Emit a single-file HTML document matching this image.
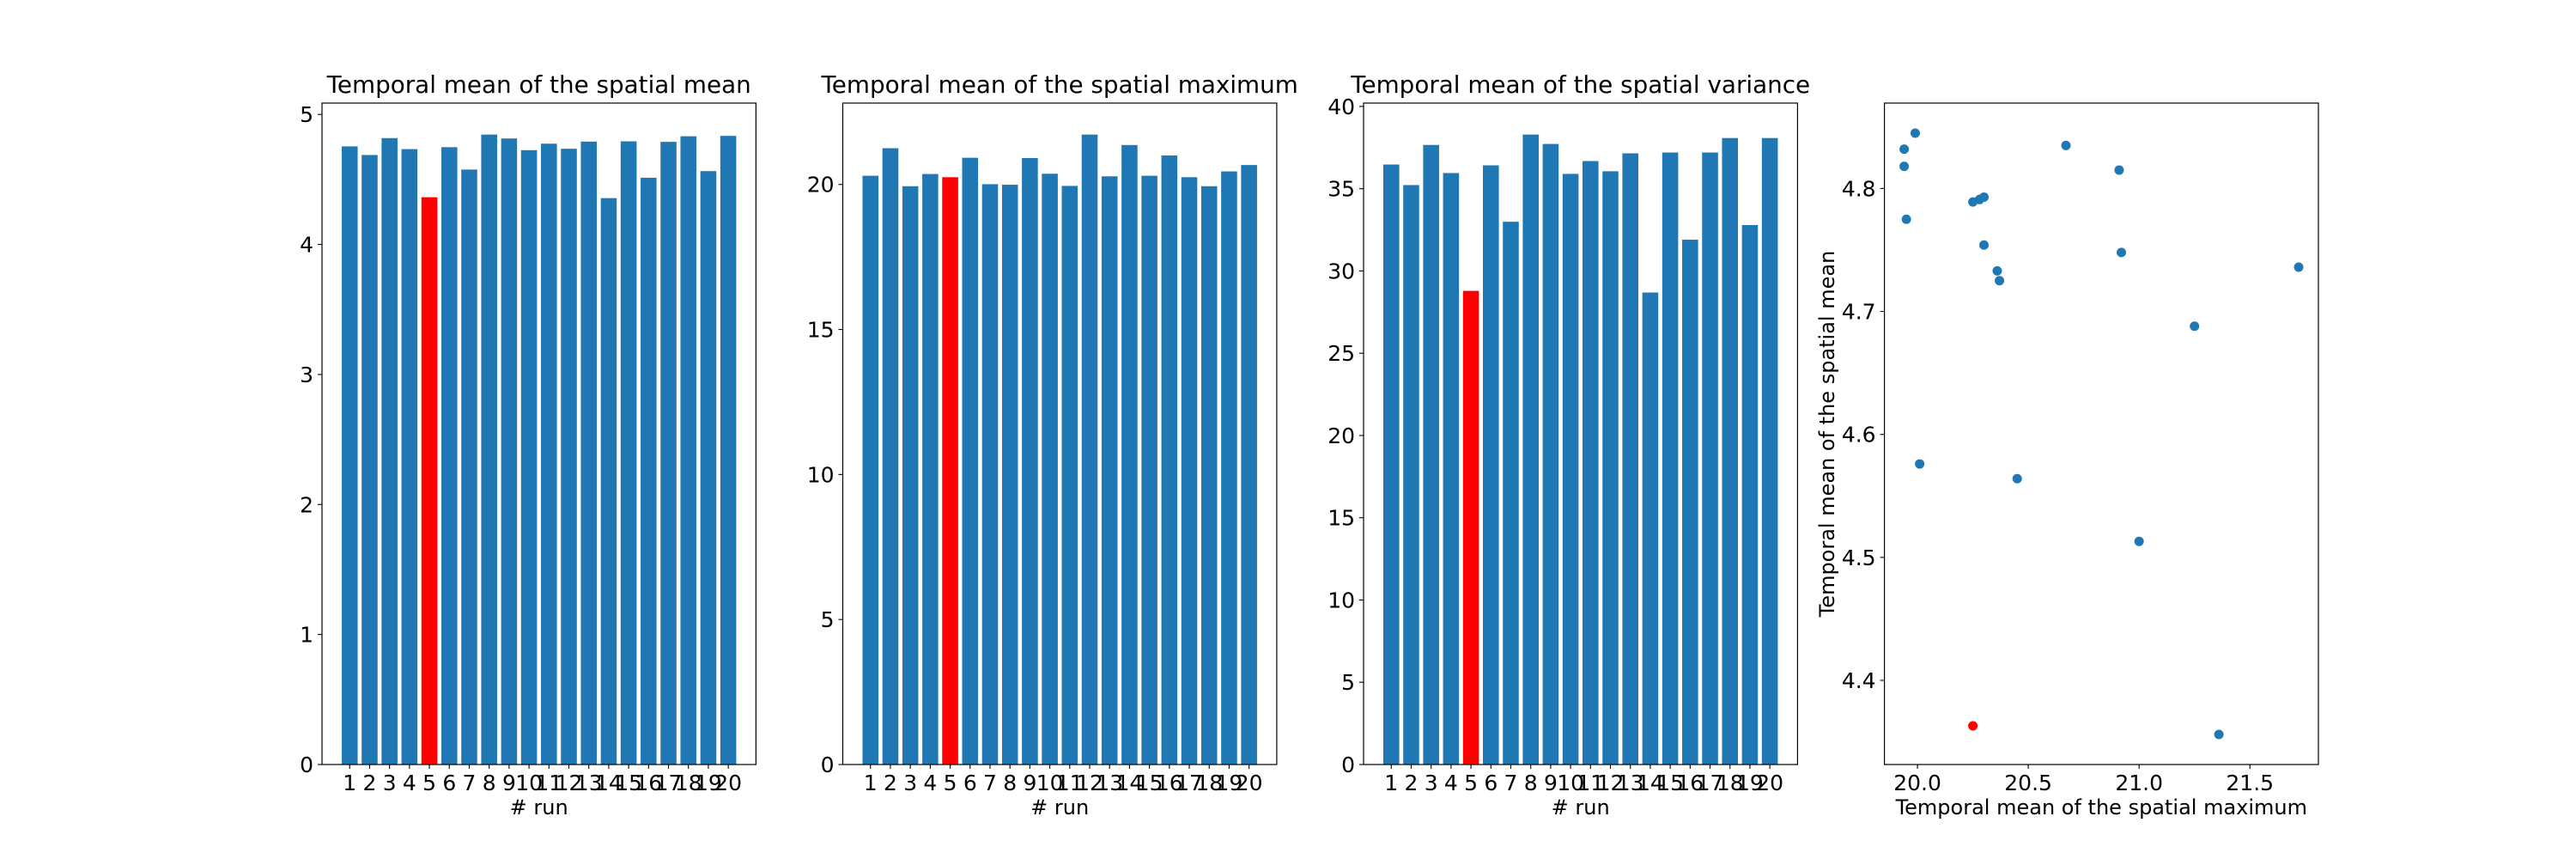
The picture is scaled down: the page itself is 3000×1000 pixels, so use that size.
<!DOCTYPE html>
<html><head><meta charset="utf-8"><style>
html,body{margin:0;padding:0;background:#fff;}
svg{display:block;font-family:"DejaVu Sans","Liberation Sans",sans-serif;}
</style></head><body>
<svg id="fig" xmlns="http://www.w3.org/2000/svg" width="3000" height="1000" viewBox="0 0 3000 1000"></svg>
<script>
const runs = [1,2,3,4,5,6,7,8,9,10,11,12,13,14,15,16,17,18,19,20];
const meanVals = [4.754,4.688,4.818,4.733,4.363,4.748,4.576,4.845,4.815,4.725,4.775,4.736,4.791,4.356,4.793,4.513,4.789,4.832,4.564,4.835];
const maxVals = [20.30,21.25,19.94,20.36,20.25,20.92,20.01,19.99,20.91,20.37,19.95,21.72,20.28,21.36,20.30,21.00,20.25,19.94,20.45,20.67];
const varVals = [36.47,35.22,37.66,35.95,28.79,36.42,32.99,38.29,37.72,35.90,36.68,36.06,37.15,28.69,37.20,31.90,37.20,38.08,32.79,38.08];
const highlightRun = 5;
const meanTicks = [0,1,2,3,4,5];
const maxTicks = [0,5,10,15,20];
const varTicks = [0,5,10,15,20,25,30,35,40];
const scatXTicks = [20.0,20.5,21.0,21.5];
const scatYTicks = [4.4,4.5,4.6,4.7,4.8];

const NS = "http://www.w3.org/2000/svg";
const svg = document.getElementById('fig');
const BLUE = "#1f77b4", RED = "#ff0000";
const TOP = 120, BOT = 890;
function el(tag, attrs, parent){
  const e = document.createElementNS(NS, tag);
  for (const k in attrs) e.setAttribute(k, attrs[k]);
  (parent||svg).appendChild(e);
  return e;
}
function txt(s, attrs, parent){ const t = el('text', attrs, parent); t.textContent = s; return t; }

function barChart(name, L, R, vals, ticks, title){
  const g = el('g', {});
  
  
  const vmax = Math.max(...vals) * 1.05;
  const x = v => L + (v - (-0.39)) / (21.39 - (-0.39)) * (R - L);
  const y = v => BOT - v / vmax * (BOT - TOP);
  vals.forEach((v, i) => {
    const r = runs[i];
    const b = el('rect', {x: x(r - 0.4), y: y(v), width: x(r + 0.4) - x(r - 0.4), height: BOT - y(v), fill: r === highlightRun ? RED : BLUE}, g);
    
    
  });
  el('rect', {x: L, y: TOP, width: R - L, height: BOT - TOP, fill: 'none', stroke: '#000', 'stroke-width': 1.2}, g);
  ticks.forEach(t => {
    el('line', {x1: L - 5, x2: L, y1: y(t), y2: y(t), stroke: '#000', 'stroke-width': 1.1}, g);
    const tl = txt(String(t), {x: L - 10, y: y(t) + 9, 'text-anchor': 'end', 'font-size': 25}, g);
    
    
  });
  runs.forEach(r => {
    el('line', {x1: x(r), x2: x(r), y1: BOT, y2: BOT + 5, stroke: '#000', 'stroke-width': 1.1}, g);
    const tl = txt(String(r), {x: x(r), y: BOT + 30, 'text-anchor': 'middle', 'font-size': 25}, g);
    
    
  });
  const xl = txt('# run', {x: (L + R) / 2, y: BOT + 58, 'text-anchor': 'middle', 'font-size': 24}, g);
  
  
  const tt = txt(title, {x: (L + R) / 2, y: TOP - 12, 'text-anchor': 'middle', 'font-size': 27.8}, g);
  
  
}

barChart('mean-bar-chart', 375, 880.4, meanVals, meanTicks, 'Temporal mean of the spatial mean');
barChart('max-bar-chart', 981.5, 1486.9, maxVals, maxTicks, 'Temporal mean of the spatial maximum');
barChart('variance-bar-chart', 1588, 2093.4, varVals, varTicks, 'Temporal mean of the spatial variance');

(function(){
  const L = 2194.6, R = 2700;
  const g = el('g', {});
  
  
  const xmn = Math.min(...maxVals), xmx = Math.max(...maxVals);
  const ymn = Math.min(...meanVals), ymx = Math.max(...meanVals);
  const x0 = xmn - 0.05*(xmx-xmn), x1 = xmx + 0.05*(xmx-xmn);
  const y0 = ymn - 0.05*(ymx-ymn), y1 = ymx + 0.05*(ymx-ymn);
  const x = v => L + (v - x0) / (x1 - x0) * (R - L);
  const y = v => BOT - (v - y0) / (y1 - y0) * (BOT - TOP);
  maxVals.forEach((v, i) => {
    const c = el('circle', {cx: x(v), cy: y(meanVals[i]), r: 5.5, fill: runs[i] === highlightRun ? RED : BLUE}, g);
    
    
  });
  el('rect', {x: L, y: TOP, width: R - L, height: BOT - TOP, fill: 'none', stroke: '#000', 'stroke-width': 1.2}, g);
  scatXTicks.forEach(t => {
    el('line', {x1: x(t), x2: x(t), y1: BOT, y2: BOT + 5, stroke: '#000', 'stroke-width': 1.1}, g);
    const tl = txt(t.toFixed(1), {x: x(t), y: BOT + 30, 'text-anchor': 'middle', 'font-size': 25}, g);
    
    
  });
  scatYTicks.forEach(t => {
    el('line', {x1: L - 5, x2: L, y1: y(t), y2: y(t), stroke: '#000', 'stroke-width': 1.1}, g);
    const tl = txt(t.toFixed(1), {x: L - 10, y: y(t) + 9, 'text-anchor': 'end', 'font-size': 25}, g);
    
    
  });
  const xl = txt('Temporal mean of the spatial maximum', {x: (L + R) / 2, y: BOT + 58, 'text-anchor': 'middle', 'font-size': 24}, g);
  
  
  const yl = txt('Temporal mean of the spatial mean', {x: 0, y: 0, 'text-anchor': 'middle', 'font-size': 24, transform: 'translate(2136,' + ((TOP + BOT) / 2) + ') rotate(-90)'}, g);
  
  
})();
</script>
</body></html>
